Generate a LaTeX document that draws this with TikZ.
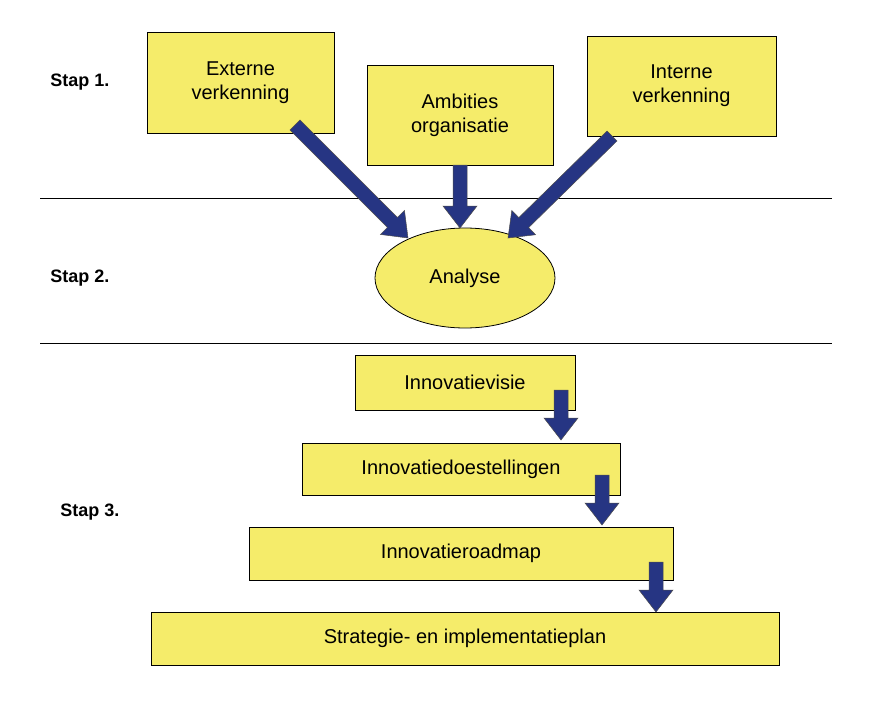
\documentclass[tikz,border=0pt]{standalone}
\usepackage{fontspec}
\setmainfont{Liberation Sans}
\usetikzlibrary{calc,shapes.geometric}
\definecolor{boxy}{HTML}{F5EC6A}
\definecolor{navy}{HTML}{263583}
\tikzset{
  box/.style={draw=black, fill=boxy, line width=0.8pt, inner sep=0pt, align=center, font=\fontsize{20}{24}\selectfont},
  stap/.style={font=\bfseries\fontsize{18}{22}\selectfont},
  barrow/.style={fill=navy, draw=black!70, line width=0.5pt}
}
\newcommand{\blockarrow}[2]{%
  \coordinate (HH) at ($(#2)!22pt!(#1)$);
  \draw[barrow] ($(#1)!7pt!90:(#2)$) -- ($(HH)!7pt!-90:(#1)$) -- ($(HH)!17pt!-90:(#1)$) -- (#2)
    -- ($(HH)!17pt!90:(#1)$) -- ($(HH)!7pt!90:(#1)$) -- ($(#1)!7pt!-90:(#2)$) -- cycle;}
\begin{document}
\begin{tikzpicture}[x=1pt,y=-1pt]
\useasboundingbox (0,0) rectangle (871,717);
\draw[line width=0.8pt] (40,198) -- (832,198);
\draw[line width=0.8pt] (40,343) -- (832,343);
\node[stap] (s1) at (80,82) {Stap 1.};
\node[stap] (s2) at (80,278) {Stap 2.};
\node[stap] (s3) at (90,512) {Stap 3.};
\node[box, minimum width=187pt, minimum height=101pt] (ext) at (240.5,82.5) {Externe\\verkenning};
\node[box, minimum width=186pt, minimum height=100pt] (amb) at (460,115) {Ambities\\organisatie};
\node[box, minimum width=189pt, minimum height=100pt] (int) at (681.5,86) {Interne\\verkenning};
\node[draw=black, fill=boxy, line width=0.8pt, ellipse, minimum width=180pt, minimum height=100pt, inner sep=0pt, font=\fontsize{20}{24}\selectfont] (ana) at (465,278) {Analyse};
\node[box, minimum width=220pt, minimum height=55pt] (v) at (465,382.5) {Innovatievisie};
\node[box, minimum width=318pt, minimum height=52pt] (d) at (461,469) {Innovatiedoestellingen};
\node[box, minimum width=424pt, minimum height=53pt] (r) at (461,553.5) {Innovatieroadmap};
\node[box, minimum width=628pt, minimum height=53pt] (p) at (465,638.5) {Strategie- en implementatieplan};
\coordinate (a1) at (295,125); \coordinate (b1) at (408,238);
\coordinate (a2) at (460,165); \coordinate (b2) at (460,228);
\coordinate (a3) at (612,136); \coordinate (b3) at (508,238);
\coordinate (a4) at (561,390); \coordinate (b4) at (561,440);
\coordinate (a5) at (602,475); \coordinate (b5) at (602,525);
\coordinate (a6) at (656,562); \coordinate (b6) at (656,612);
\blockarrow{a1}{b1}
\blockarrow{a2}{b2}
\blockarrow{a3}{b3}
\blockarrow{a4}{b4}
\blockarrow{a5}{b5}
\blockarrow{a6}{b6}
\end{tikzpicture}
\end{document}
